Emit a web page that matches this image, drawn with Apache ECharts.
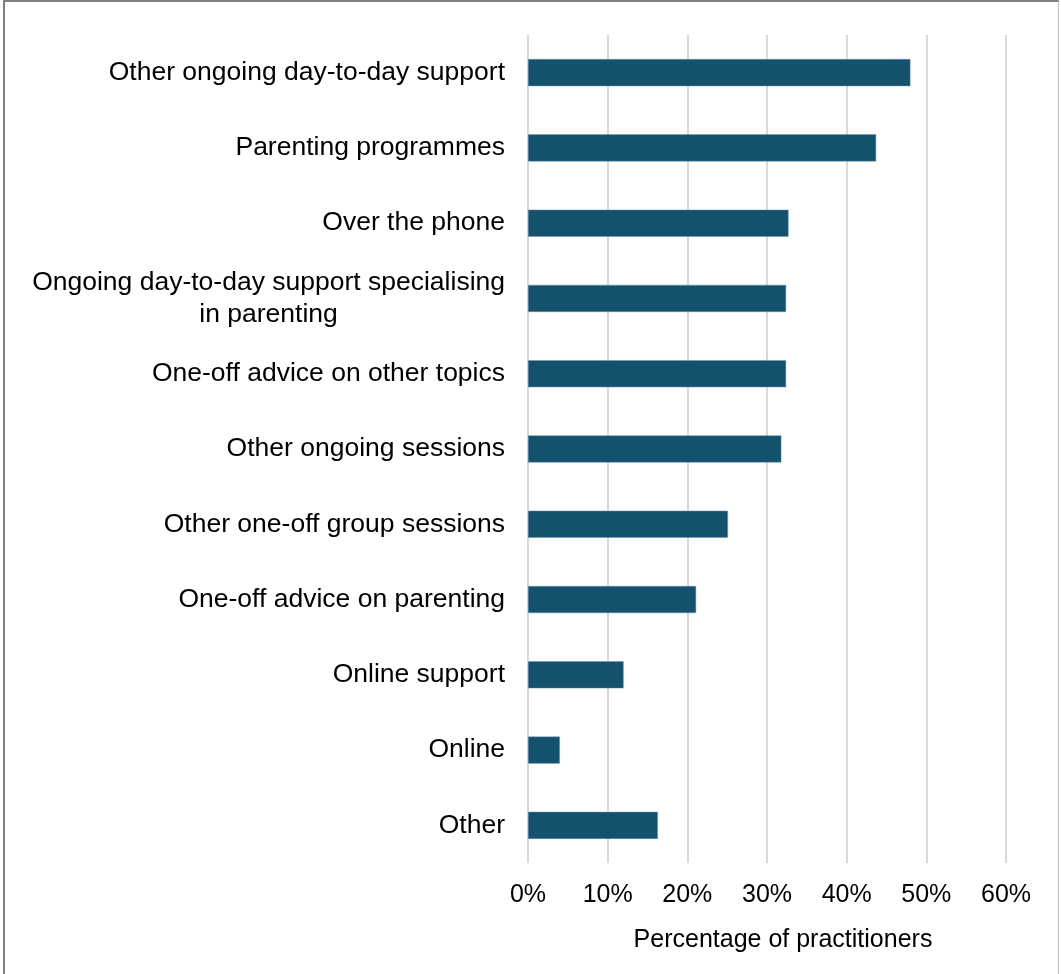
<!DOCTYPE html>
<html>
<head>
<meta charset="utf-8">
<script src="https://cdn.jsdelivr.net/npm/echarts@6/dist/echarts.min.js"></script>
<style>
  html, body { margin: 0; padding: 0; background: #fff; }
  #frame {
    position: absolute; left: 3px; top: 0; width: 1056px; height: 974px;
    border-left: 2px solid #7f7f7f; border-top: 2px solid #7f7f7f; border-right: 1px solid #bfbfbf;
    box-sizing: border-box;
  }
  #main { position: absolute; left: 0; top: 0; width: 1061px; height: 974px; }
</style>
</head>
<body>
<div id="frame"></div>
<div id="main"></div>
<script>
// categories, top to bottom
var categories = [
  'Other ongoing day-to-day support',
  'Parenting programmes',
  'Over the phone',
  'Ongoing day-to-day support specialising\nin parenting',
  'One-off advice on other topics',
  'Other ongoing sessions',
  'Other one-off group sessions',
  'One-off advice on parenting',
  'Online support',
  'Online',
  'Other'
];
// percentage of practitioners
var values = [48.0, 43.7, 32.7, 32.4, 32.4, 31.8, 25.1, 21.1, 12.0, 4.0, 16.3];
var xTicks = [0, 10, 20, 30, 40, 50, 60];

var chart = echarts.init(document.getElementById('main'));

var option = {
  animation: false,
  textStyle: { fontFamily: 'Liberation Sans, Arial, sans-serif' },
  grid: { left: 528, right: 55, top: 35, bottom: 111, containLabel: false },
  xAxis: {
    type: 'value',
    min: xTicks[0],
    max: xTicks[xTicks.length - 1],
    interval: 10,
    axisLine: { show: false },
    axisTick: { show: false },
    splitLine: { lineStyle: { color: '#d9d9d9', width: 2 } },
    axisLabel: {
      color: '#000', fontSize: 25, margin: 20,
      formatter: function (v) { return v + '%'; }
    },
    name: 'Percentage of practitioners',
    nameLocation: 'middle',
    nameGap: 65,
    nameTextStyle: { color: '#000', fontSize: 25, padding: [0, 0, 0, 32] }
  },
  yAxis: {
    type: 'category',
    inverse: true,
    data: categories,
    axisLine: { show: false },
    axisTick: { show: false },
    axisLabel: {
      color: '#000', fontSize: 26.5, margin: 23,
      formatter: function (v) {
        return v.split('\n').map(function (s) { return '{c|' + s + '}'; }).join('\n');
      },
      rich: { c: { align: 'center', fontSize: 26.5, lineHeight: 32, color: '#000' } }
    }
  },
  series: [{
    type: 'bar',
    data: values,
    barWidth: '36%',
    itemStyle: { color: '#13516c', borderColor: '#6f97aa', borderWidth: 0.5 }
  }]
};

chart.setOption(option);
</script>
</body>
</html>
